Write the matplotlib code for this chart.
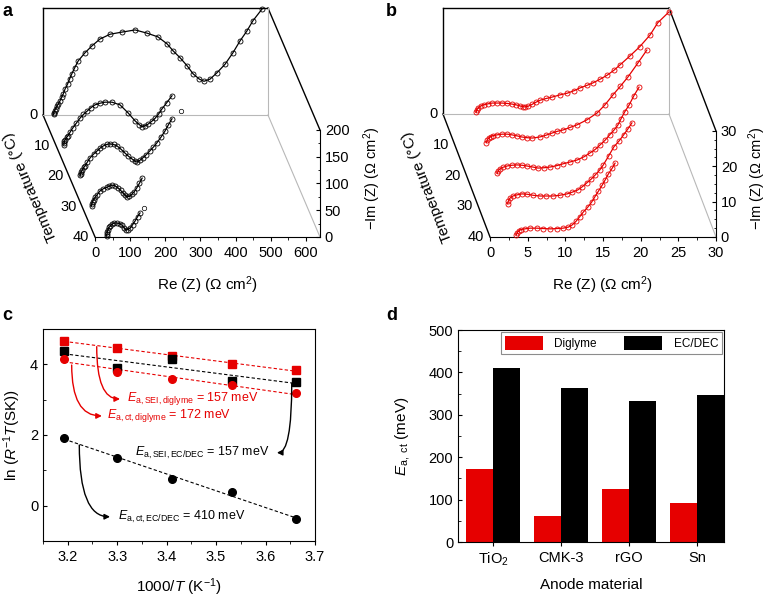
import numpy as np
import matplotlib
matplotlib.use('Agg')
import matplotlib.pyplot as plt
from matplotlib.ticker import MultipleLocator

plt.rcParams['font.family'] = ['Liberation Sans', 'DejaVu Sans']
plt.rcParams['mathtext.fontset'] = 'custom'
plt.rcParams['mathtext.rm'] = 'Liberation Sans'
plt.rcParams['mathtext.it'] = 'Liberation Sans:italic'
plt.rcParams['mathtext.bf'] = 'Liberation Sans:bold'

RED = '#e60000'
temps = [0, 10, 20, 30, 40]

# --- a: EC/DEC Nyquist curves (Re, -Im) for each temperature ---
a_re_0 = [30, 31, 33, 36, 40, 44, 48, 53, 58, 63, 70, 76, 82, 90, 100, 119, 139, 162, 191, 225,
          262, 296, 327, 353, 370, 390, 410, 427, 445, 458, 475, 495, 518, 540, 560, 580, 597, 623]
a_im_0 = [1, 4, 8, 12, 17, 21, 26, 33, 40, 49, 58, 68, 77, 88, 101, 116, 129, 142, 151, 155,
          159, 153, 146, 133, 120, 107, 92, 77, 67, 63, 67, 79, 95, 116, 138, 157, 176, 198]
a_re_10 = [22, 23, 24, 26, 30, 34, 41, 48, 58, 68, 78, 88, 100, 111, 125, 139, 159, 182, 205, 225,
           237, 245, 254, 262, 272, 282, 292, 301, 315, 330]
a_im_10 = [1, 4, 8, 11, 15, 18, 26, 33, 42, 51, 58, 64, 71, 76, 79, 81, 81, 76, 61, 46,
           39, 35, 37, 40, 45, 51, 59, 68, 80, 93]
a_re_20 = [32, 33, 35, 38, 42, 46, 52, 60, 70, 80, 88, 97, 107, 117, 127, 137, 148, 159, 169, 179,
           187, 193, 201, 210, 220, 230, 240, 250, 262, 273, 283, 293]
a_im_20 = [1, 4, 8, 12, 16, 19, 26, 34, 41, 47, 52, 56, 59, 60, 59, 56, 50, 43, 37, 32,
           28, 26, 29, 34, 40, 47, 54, 62, 73, 84, 96, 107]
a_re_30 = [27, 28, 30, 33, 37, 42, 51, 60, 71, 78, 85, 93, 102, 110, 117, 123, 128, 135, 142, 149,
           156, 163, 171]
a_im_30 = [1, 5, 9, 13, 17, 21, 29, 33, 36, 38, 40, 39, 35, 30, 25, 21, 18, 19, 23, 28,
           35, 43, 53]
a_re_40 = [33, 34, 35, 37, 40, 44, 48, 55, 63, 70, 77, 83, 88, 94, 100, 107, 114, 121, 128]
a_im_40 = [2, 6, 10, 14, 18, 21, 24, 26, 26, 25, 22, 17, 13, 14, 17, 23, 30, 38, 45]
a_stray = [(10, 356, 64), (40, 139, 54)]  # (temperature, Re, -Im)

# --- b: diglyme Nyquist curves ---
b_re_0 = [4.4, 4.5, 4.7, 5.0, 5.4, 6.0, 6.5, 7.2, 7.8, 8.5, 9.2, 9.7, 10.2, 10.6, 10.9, 11.3, 11.8,
          12.3, 12.9, 13.7, 14.5, 15.5, 16.5, 17.4, 18.2, 19.1, 19.9, 20.9, 21.8, 22.7, 23.5,
          24.8, 26.1, 27.5, 28.5, 30.0]
b_im_0 = [0.5, 1.2, 1.8, 2.3, 2.6, 2.9, 3.1, 3.1, 3.1, 3.0, 2.8, 2.6, 2.3, 2.1, 2.0, 2.2, 2.7,
          3.3, 3.9, 4.4, 4.8, 5.4, 5.9, 6.6, 7.4, 8.1, 8.8, 9.9, 11.0, 12.4, 13.9,
          16.4, 19.0, 22.4, 25.8, 28.9]
b_re_10 = [4.2, 4.3, 4.5, 4.8, 5.1, 5.6, 6.3, 7.0, 7.6, 8.3, 8.9, 9.6, 10.3, 11.3, 12.1, 12.9,
           13.6, 14.4, 15.3, 16.2, 17.5, 18.9, 19.9, 21.0, 22.0, 23.0, 24.3, 25.5]
b_im_10 = [0.6, 1.3, 1.9, 2.3, 2.6, 2.8, 3.0, 3.0, 2.8, 2.5, 2.2, 2.0, 1.9, 2.2, 2.7, 3.3,
           3.8, 4.2, 4.9, 5.6, 7.0, 9.0, 11.2, 14.1, 16.6, 19.2, 23.1, 26.8]
b_re_20 = [4.1, 4.2, 4.4, 4.8, 5.4, 6.0, 6.7, 7.4, 8.0, 8.8, 9.5, 10.3, 11.1, 12.0, 12.8, 13.7,
           14.7, 15.6, 16.4, 17.1, 17.7, 18.4, 19.0, 19.6, 20.1, 20.5, 21.0, 21.6, 22.2, 22.9]
b_im_20 = [0.6, 1.3, 1.8, 2.3, 2.7, 2.9, 3.0, 2.9, 2.7, 2.4, 2.1, 2.2, 2.4, 2.8, 3.3, 3.8,
           4.4, 5.3, 6.4, 7.4, 8.6, 10.0, 11.5, 12.9, 14.3, 16.0, 18.0, 20.0, 22.5, 25.0]
b_re_30 = [3.9, 4.0, 4.2, 4.6, 5.1, 5.8, 6.5, 7.3, 8.2, 9.0, 9.9, 10.8, 11.8, 12.5, 13.2, 13.8,
           14.4, 15.0, 15.5, 16.1, 16.6, 17.3, 18.0, 18.7, 19.3, 19.9, 20.4]
b_im_30 = [0.7, 1.5, 2.3, 2.9, 3.2, 3.5, 3.4, 3.1, 2.9, 2.9, 2.9, 3.1, 3.5, 4.0, 4.6, 5.5,
           6.6, 7.7, 8.8, 10.2, 11.7, 14.2, 16.8, 18.5, 20.2, 22.0, 23.6]
b_re_40 = [3.5, 3.6, 3.8, 4.1, 4.6, 5.3, 6.2, 7.1, 8.0, 8.9, 9.7, 10.4, 10.9, 11.4, 11.9, 12.4,
           13.0, 13.5, 13.9, 14.4, 14.9, 15.3, 15.7, 16.2, 16.6]
b_im_40 = [0.6, 1.2, 1.7, 2.1, 2.3, 2.5, 2.5, 2.4, 2.3, 2.4, 2.5, 2.8, 3.4, 4.4, 5.7, 7.1,
           8.5, 9.9, 11.3, 13.0, 14.7, 16.2, 17.8, 19.4, 20.9]

# --- c: Arrhenius data ---
inv_t = [3.193, 3.299, 3.411, 3.532, 3.661]
sei_diglyme = [4.66, 4.47, 4.23, 4.02, 3.83]
sei_ecdec = [4.37, 3.91, 4.14, 3.53, 3.51]
ct_diglyme = [4.16, 3.78, 3.58, 3.41, 3.18]
ct_ecdec = [1.92, 1.34, 0.76, 0.40, -0.39]

# --- d: activation energies ---
materials = ['TiO$_2$', 'CMK-3', 'rGO', 'Sn']
ea_diglyme = [172, 61, 124, 93]
ea_ecdec = [410, 363, 333, 346]

fig = plt.figure(figsize=(7.68, 6.02), dpi=100)


def px_axes(left, top, right, bottom):
    W, H = 768, 602
    return fig.add_axes([left / W, 1 - bottom / H, (right - left) / W, (bottom - top) / H])


def project(re, im, temp, depth):
    # oblique view: 40 °C in front, 0 °C at the back wall
    back = (40 - np.asarray(temp, dtype=float)) / 40
    return np.asarray(re, dtype=float) + back * depth[0], np.asarray(im, dtype=float) + back * depth[1]


def nyquist_panel(ax, curves, xmax, zmax, depth, color, xstep, zstep, zminor, ylab_dx, stray=()):
    ax.set_xlim(depth[0], xmax)
    ax.set_ylim(0, zmax + depth[1])
    for s in ('top', 'left'):
        ax.spines[s].set_visible(False)
    ax.spines['bottom'].set_bounds(0, xmax)
    ax.spines['right'].set_bounds(0, zmax)
    ax.yaxis.tick_right()
    ax.set_xticks(np.arange(0, xmax + 0.01, xstep))
    ax.set_xticks(np.arange(0, xmax + 0.01, xstep / 2), minor=True)
    ax.set_yticks(np.arange(0, zmax + 0.01, zstep))
    ax.set_yticks(np.arange(0, zmax + 0.01, zminor), minor=True)
    ax.tick_params(labelsize=10.5, length=3, width=0.8)
    ax.tick_params(which='minor', length=1.8, width=0.6)
    ax.tick_params(axis='y', which='both', direction='in')

    edges = [((0, 0, 40), (0, 0, 0), 'k'),
             ((0, 0, 0), (0, zmax, 0), 'k'),
             ((0, zmax, 0), (xmax, zmax, 0), 'k'),
             ((xmax, zmax, 0), (xmax, zmax, 40), 'k'),
             ((0, 0, 0), (xmax, 0, 0), '0.72'),
             ((xmax, 0, 0), (xmax, zmax, 0), '0.72'),
             ((xmax, 0, 0), (xmax, 0, 40), '0.72')]
    for p, q, c in edges:
        xs, ys = project([p[0], q[0]], [p[1], q[1]], [p[2], q[2]], depth)
        ax.plot(xs, ys, color=c, lw=1.0 if c == 'k' else 0.8, clip_on=False, zorder=1)

    for t, (re, im) in zip(temps, curves):
        xs, ys = project(re, im, t, depth)
        ax.plot(xs, ys, '-', color=color, lw=0.9, zorder=3, clip_on=False)
        ax.plot(xs, ys, 'o', mfc='none', mec=color, ms=3.6, mew=0.6, zorder=3, clip_on=False)
    for t, re, im in stray:
        xs, ys = project([re], [im], t, depth)
        ax.plot(xs, ys, 'o', mfc='none', mec=color, ms=3.2, mew=0.5, zorder=3)

    for t in temps:
        x, y = project(0, 0, t, depth)
        ax.annotate(str(t), (x, y), xytext=(-4, 0), textcoords='offset points',
                    ha='right', va='center', fontsize=10.5)
    p0 = ax.transData.transform(np.column_stack(project([0], [0], [40], depth)))[0]
    p1 = ax.transData.transform(np.column_stack(project([0], [0], [0], depth)))[0]
    ang = np.degrees(np.arctan2(p1[1] - p0[1], p1[0] - p0[0]))
    mx, my = project(0, 0, 20, depth)
    ax.annotate('Temperature (°C)', (mx, my), xytext=(-28, -8), textcoords='offset points',
                rotation=ang, ha='center', va='center', fontsize=11)
    fx = (xmax / 2 - depth[0]) / (xmax - depth[0])
    ax.text(fx, -0.21, 'Re (Z) (Ω cm$^2$)', transform=ax.transAxes, ha='center', va='center',
            fontsize=11)
    ax.annotate('−Im (Z) (Ω cm$^2$)', (1, 0.255), xycoords='axes fraction',
                xytext=(ylab_dx, 0), textcoords='offset pixels', rotation=90,
                ha='center', va='center', fontsize=10.5)


# a
axa = px_axes(43, 8, 320, 237)
nyquist_panel(axa, [(a_re_0, a_im_0), (a_re_10, a_im_10), (a_re_20, a_im_20),
                    (a_re_30, a_im_30), (a_re_40, a_im_40)],
              640, 200, (-148, 228), 'k', 100, 50, 25, 52, a_stray)

# b
axb = px_axes(443, 8, 716, 237)
nyquist_panel(axb, [(b_re_0, b_im_0), (b_re_10, b_im_10), (b_re_20, b_im_20),
                    (b_re_30, b_im_30), (b_re_40, b_im_40)],
              30, 30, (-6.24, 34.8), RED, 5, 10, 2.5, 41)

# c
axc = px_axes(43, 329, 315, 541)
series = [(sei_diglyme, 's', RED), (sei_ecdec, 's', 'k'),
          (ct_diglyme, 'o', RED), (ct_ecdec, 'o', 'k')]
for vals, m, c in series:
    k, b = np.polyfit(inv_t, vals, 1)
    xx = np.array([inv_t[0], inv_t[-1]])
    axc.plot(xx, k * xx + b, '--', color=c, lw=0.8, dashes=(3, 2))
    axc.plot(inv_t, vals, m, color=c, ms=5.5, zorder=3)
axc.set_xlim(3.15, 3.7)
axc.set_ylim(-1, 5)
axc.set_yticks([0, 2, 4])
axc.yaxis.set_minor_locator(MultipleLocator(1))
axc.xaxis.set_major_locator(MultipleLocator(0.1))
axc.xaxis.set_minor_locator(MultipleLocator(0.05))
axc.tick_params(labelsize=10.5, length=3, width=0.8)
axc.tick_params(which='minor', length=1.8, width=0.6)
axc.tick_params(axis='y', which='both', direction='in')
axc.set_xlabel('1000/$T$ (K$^{-1}$)', fontsize=11, labelpad=9)
axc.set_ylabel('ln ($R^{-1}T$(SK))', fontsize=11, labelpad=5)

notes = [(r'$E_{\rm a,SEI,diglyme}$ = 157 meV', (3.319, 3.02), (3.2586, 4.50), (3.3057, 3.02), RED),
         (r'$E_{\rm a,ct,diglyme}$ = 172 meV', (3.279, 2.54), (3.208, 3.98), (3.269, 2.54), RED),
         (r'$E_{\rm a,SEI,EC/DEC}$ = 157 meV', (3.336, 1.48), (3.653, 3.46), (3.623, 1.50), 'k'),
         (r'$E_{\rm a,ct,EC/DEC}$ = 410 meV', (3.302, -0.32), (3.2234, 1.717), (3.2855, -0.313), 'k')]
for text, txy, start, tip, c in notes:
    axc.annotate('', xy=tip, xytext=start,
                 arrowprops=dict(arrowstyle='-|>', color=c, lw=1.0, shrinkA=0, shrinkB=0,
                                 mutation_scale=8,
                                 connectionstyle='angle3,angleA=90,angleB=0'))
    axc.text(txy[0], txy[1], text, color=c, fontsize=9, va='center')

# d
axd = px_axes(458, 330, 724, 542)
xpos = np.arange(len(materials))
axd.bar(xpos - 0.2, ea_diglyme, 0.4, color=RED, label='Diglyme')
axd.bar(xpos + 0.2, ea_ecdec, 0.4, color='k', label='EC/DEC')
axd.set_xlim(-0.52, 3.4)
axd.set_ylim(0, 500)
axd.set_xticks(xpos)
axd.set_xticklabels(materials)
axd.yaxis.set_major_locator(MultipleLocator(100))
axd.yaxis.set_minor_locator(MultipleLocator(50))
axd.tick_params(labelsize=10.5, length=3, width=0.8)
axd.tick_params(which='minor', length=1.8, width=0.6)
axd.tick_params(axis='y', which='both', direction='in')
axd.set_xlabel('Anode material', fontsize=11, labelpad=7)
axd.set_ylabel(r'$E_{\rm a,\ ct}$ (meV)', fontsize=11, labelpad=12)
leg = axd.legend(ncol=2, loc='upper right', fontsize=8.5, handlelength=3.2, handleheight=1.5,
                 handletextpad=1.0, columnspacing=2.3, borderaxespad=0.15, fancybox=False,
                 framealpha=1, borderpad=0.35)
leg.get_frame().set_edgecolor('0.55')
leg.get_frame().set_linewidth(0.8)

for label, x, y in [('a', 0.003, 0.995), ('b', 0.503, 0.995), ('c', 0.003, 0.49), ('d', 0.503, 0.49)]:
    fig.text(x, y, label, fontsize=13, fontweight='bold', va='top')

fig.savefig('out.png', dpi=100)
